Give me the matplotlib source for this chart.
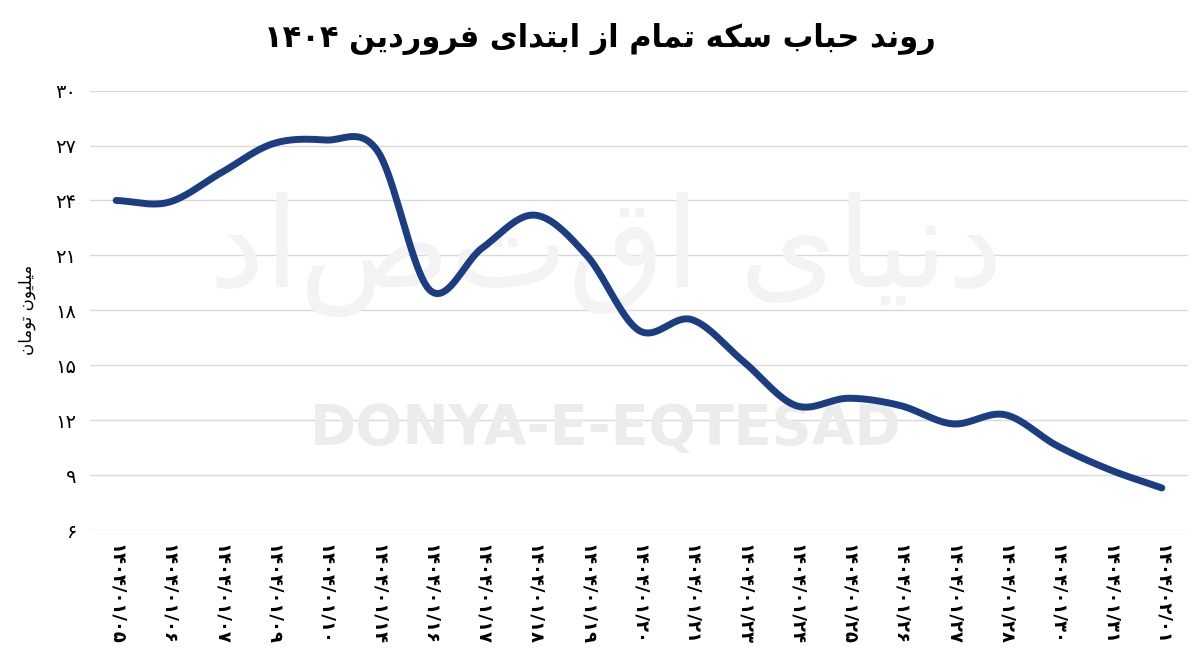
import numpy as np
import matplotlib
matplotlib.use("Agg")
from matplotlib import pyplot as plt

plt.rcParams['font.family'] = ['DejaVu Sans']

FA = str.maketrans("0123456789", "۰۱۲۳۴۵۶۷۸۹")

days = ["01/05", "01/06", "01/07", "01/09", "01/10", "01/14", "01/16", "01/17", "01/18",
        "01/19", "01/20", "01/21", "01/23", "01/24", "01/25", "01/26", "01/27", "01/28",
        "01/30", "01/31", "02/01"]
bubble = [24.0, 23.9, 25.5, 27.1, 27.3, 26.7, 19.1, 21.4, 23.2, 21.0, 16.9, 17.5,
          15.2, 12.8, 13.2, 12.8, 11.8, 12.3, 10.6, 9.3, 8.3]
yticks = [6, 9, 12, 15, 18, 21, 24, 27, 30]

# minimal Arabic/Persian shaping with presentation forms: (isol, final, init, medial)
FORMS = {
    "ا": ("\uFE8D", "\uFE8E", None, None), "د": ("\uFEA9", "\uFEAA", None, None),
    "ر": ("\uFEAD", "\uFEAE", None, None), "ز": ("\uFEAF", "\uFEB0", None, None),
    "و": ("\uFEED", "\uFEEE", None, None),
    "ب": ("\uFE8F", "\uFE90", "\uFE91", "\uFE92"), "ت": ("\uFE95", "\uFE96", "\uFE97", "\uFE98"),
    "ح": ("\uFEA1", "\uFEA2", "\uFEA3", "\uFEA4"), "س": ("\uFEB1", "\uFEB2", "\uFEB3", "\uFEB4"),
    "ف": ("\uFED1", "\uFED2", "\uFED3", "\uFED4"), "ل": ("\uFEDD", "\uFEDE", "\uFEDF", "\uFEE0"),
    "م": ("\uFEE1", "\uFEE2", "\uFEE3", "\uFEE4"), "ن": ("\uFEE5", "\uFEE6", "\uFEE7", "\uFEE8"),
    "ه": ("\uFEE9", "\uFEEA", "\uFEEB", "\uFEEC"),
    "ک": ("\uFB8E", "\uFB8F", "\uFB90", "\uFB91"), "ی": ("\uFBFC", "\uFBFD", "\uFBFE", "\uFBFF"),
}


def shape(word):
    out = []
    for i, c in enumerate(word):
        if c not in FORMS:
            out.append(c); continue
        prev = word[i - 1] if i > 0 else None
        nxt = word[i + 1] if i < len(word) - 1 else None
        join_prev = prev in FORMS and FORMS[prev][2] is not None
        join_next = nxt in FORMS and FORMS[c][2] is not None
        f = FORMS[c]
        if join_prev and join_next: out.append(f[3])
        elif join_prev: out.append(f[1])
        elif join_next: out.append(f[2])
        else: out.append(f[0])
    return "".join(out)


def rtl(text):
    res = []
    for w in reversed(text.split(" ")):
        if all(ch in "۰۱۲۳۴۵۶۷۸۹" for ch in w):
            res.append(w)
        else:
            res.append(shape(w)[::-1])
    return " ".join(res)


def smooth(x, y, n=20):
    """Catmull-Rom spline through the points (Excel-like smoothed line)."""
    x = np.asarray(x, float); y = np.asarray(y, float)
    px = np.concatenate([[2 * x[0] - x[1]], x, [2 * x[-1] - x[-2]]])
    py = np.concatenate([[2 * y[0] - y[1]], y, [2 * y[-1] - y[-2]]])
    xs, ys = [], []
    t = np.linspace(0, 1, n, endpoint=False)
    for i in range(1, len(px) - 2):
        for arr, out in ((px, xs), (py, ys)):
            p0, p1, p2, p3 = arr[i - 1:i + 3]
            out.extend(0.5 * (2 * p1 + (-p0 + p2) * t + (2 * p0 - 5 * p1 + 4 * p2 - p3) * t**2
                              + (-p0 + 3 * p1 - 3 * p2 + p3) * t**3))
    xs.append(x[-1]); ys.append(y[-1])
    return np.array(xs), np.array(ys)


fig = plt.figure(figsize=(12, 6.71), dpi=100)
ax = fig.add_axes([0.075, 0.21, 0.915, 0.655])
x = np.arange(len(bubble))
sx, sy = smooth(x, bubble)
ax.plot(sx, sy, color="#1b3d82", lw=5, solid_capstyle="round", zorder=3)

ax.set_ylim(6, 30)
ax.set_xlim(-0.5, len(bubble) - 0.5)
ax.set_yticks(yticks)
ax.set_yticklabels([str(v).translate(FA) for v in yticks], fontsize=14)
ax.set_xticks(x)
ax.set_xticklabels([("1404/" + d).translate(FA) for d in days], rotation=-90,
                   fontsize=13, fontweight="bold")
ax.tick_params(length=0, pad=10)
ax.grid(True, axis="y", color="#d9d9d9", lw=1)
ax.set_axisbelow(True)
for s in ax.spines.values():
    s.set_visible(False)
ax.set_ylabel(rtl("میلیون تومان"), fontsize=12, labelpad=14)

ax.text(0.47, 0.23, "DONYA-E-EQTESAD", transform=ax.transAxes, ha="center", va="center",
        fontsize=40, fontweight="bold", color="#ececec", zorder=1)
ax.text(0.47, 0.63, rtl("دنیای اقتصاد"), transform=ax.transAxes, ha="center", va="center",
        fontsize=90, color="#f3f3f3", zorder=1)

fig.suptitle(rtl("روند حباب سکه تمام از ابتدای فروردین " + "1404".translate(FA)),
             fontsize=22, fontweight="bold", y=0.965)
fig.savefig("out.png", dpi=100)
